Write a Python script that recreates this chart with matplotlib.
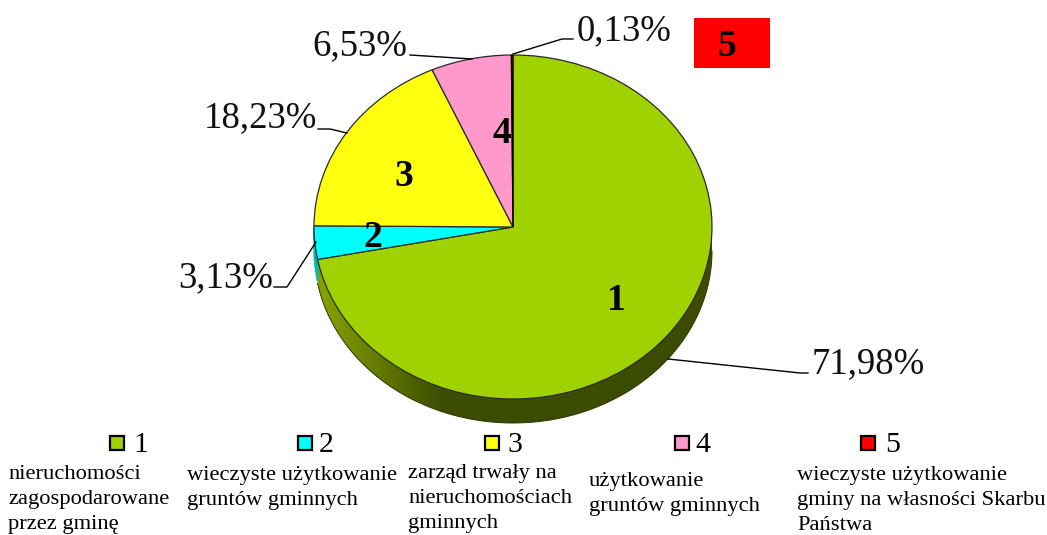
import numpy as np
import matplotlib.pyplot as plt
from matplotlib.patches import Rectangle

plt.rcParams['font.family'] = ['Liberation Serif', 'DejaVu Serif']

W, H = 1047, 535
# pixel geometry of the top face
CX, CY, RX, RY = 513, 227, 199, 172
DEPTH = 24

values = [71.98, 3.13, 18.23, 6.53, 0.13]
pct_labels = ["71,98%", "3,13%", "18,23%", "6,53%", "0,13%"]
numbers = ["1", "2", "3", "4", "5"]
colors = ["#9fd200", "#00ffff", "#ffff0f", "#ff99cc", "#ff0000"]
side_cyan = "#00b8c0"
legend_text = [
    ["nieruchomości", "zagospodarowane", "przez gminę"],
    ["wieczyste użytkowanie", "gruntów gminnych"],
    ["zarząd trwały na", "nieruchomościach", "gminnych"],
    ["użytkowanie", "gruntów gminnych"],
    ["wieczyste użytkowanie", "gminy na własności Skarbu", "Państwa"],
]

fig = plt.figure(figsize=(W / 100, H / 100), dpi=100)

# background axes in pixel coordinates for the text and leader lines
bg = fig.add_axes([0, 0, 1, 1])
bg.set_xlim(0, W)
bg.set_ylim(H, 0)
bg.axis("off")

# pie axes: exactly the box of the top face, so the circle becomes an ellipse
pie_ax = fig.add_axes([(CX - RX) / W, 1 - (CY + RY) / H, 2 * RX / W, 2 * RY / H])
pie_ax.patch.set_alpha(0)
d = DEPTH / RY

# side wall: horizontal gradient clipped to the swept shape of the green slice
gx = np.linspace(-1, 1, 400)
c0 = np.array([0x84, 0xa0, 0x00]) / 255
c1 = np.array([0x3c, 0x4c, 0x00]) / 255
mix = np.interp(gx, [-0.95, -0.35], [0, 1])
grad = (c0[None, :] * (1 - mix[:, None]) + c1[None, :] * mix[:, None])[None, :, :]

edge_angle = 90 - 360 * values[0] / 100
t_low = np.radians(np.linspace(edge_angle, 0, 200))
xs = np.r_[np.cos(t_low), np.cos(t_low[::-1])]
ys = np.r_[np.sin(t_low), np.sin(t_low[::-1]) - d]
wall, = pie_ax.fill(xs, ys, color="none", clip_on=False)
im = pie_ax.imshow(grad, extent=[-1, 1, -1 - d, 0], aspect="auto", zorder=1)
im.set_clip_box(fig.bbox)
im.set_clip_path(wall)
pie_ax.plot(np.cos(t_low), np.sin(t_low) - d, color="#333300", lw=0.7, clip_on=False, zorder=1.5)

# small cyan piece of side wall, left of the green one
t_c = np.radians(np.linspace(-180, edge_angle, 30))
pie_ax.fill(np.r_[np.cos(t_c), np.cos(t_c[::-1])],
            np.r_[np.sin(t_c), np.sin(t_c[::-1]) - d * 0.9],
            color=side_cyan, clip_on=False, zorder=1)

wedges, _ = pie_ax.pie(values, colors=colors, startangle=90, counterclock=False,
                       radius=1, center=(0, 0),
                       wedgeprops=dict(edgecolor="#2a2a2a", linewidth=0.9, zorder=2))
for w in wedges:
    w.set_clip_on(False)
wedges[4].set_edgecolor("black")
pie_ax.set_aspect("auto")
pie_ax.set_xlim(-1, 1)
pie_ax.set_ylim(-1, 1)
pie_ax.axis("off")
pie_ax.set_zorder(1)
bg.set_zorder(2)

# numbers on slices, placed by baseline
num_pos = [(616, 310), (373, 247), (404, 186), (502, 143)]
for s, (x, y) in zip(numbers, num_pos):
    bg.text(x, y, s, fontsize=27, fontweight="bold", ha="center", va="baseline")

# red box with 5
bg.add_patch(Rectangle((694, 18), 76, 50, facecolor="#ff0000", edgecolor="none"))
bg.text(727, 56, numbers[4], fontsize=27, fontweight="bold", ha="center", va="baseline")

# percentage labels with leader lines
pct_pos = [(812, 373), (178, 287), (204, 127), (312, 55), (577, 40)]
leaders = [
    [(668, 359), (800, 373), (808, 373)],
    [(316, 242), (287, 287), (274, 287)],
    [(347, 133), (330, 129), (318, 129)],
    [(472, 59), (410, 55)],
    [(513, 54), (562, 39), (573, 39)],
]
for s, (x, y), pts in zip(pct_labels, pct_pos, leaders):
    bg.text(x, y, s, fontsize=26.5, ha="left", va="baseline", color="#111111")
    px, py = zip(*pts)
    bg.plot(px, py, color="black", lw=1)

# legend
swatch_x = [110, 298, 485, 675, 861]
num_x = [133, 319, 507, 695, 885]
text_x = [8, 187, 408, 589, 797]
text_y = [479, 480, 478, 486, 480]
for i in range(5):
    bg.add_patch(Rectangle((swatch_x[i], 436), 14, 14, facecolor=colors[i],
                           edgecolor="black", linewidth=1.6))
    bg.text(num_x[i], 452, numbers[i], fontsize=21.5, ha="left", va="baseline")
    for j, line in enumerate(legend_text[i]):
        bg.text(text_x[i], text_y[i] + j * 25, line, fontsize=16.2, ha="left", va="baseline")

fig.savefig("out.png", dpi=100)
